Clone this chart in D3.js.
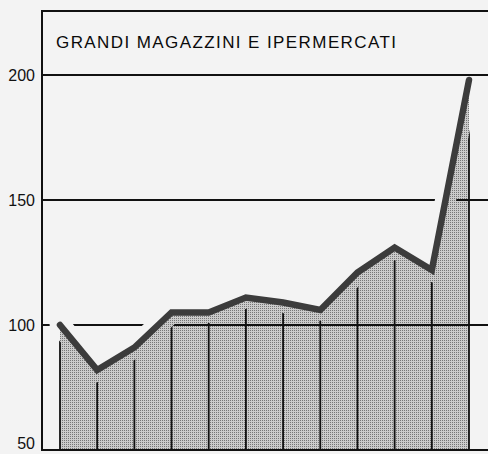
<!DOCTYPE html>
<html>
<head>
<meta charset="utf-8">
<script src="https://cdn.jsdelivr.net/npm/d3@7"></script>
<style>
	body { margin: 0; background: #f3f3f3; }
	svg { display: block; font-family: "Liberation Sans", Arial, sans-serif; }
</style>
</head>
<body>
<div id="chart"></div>
<script>
let title = "GRANDI MAGAZZINI E IPERMERCATI"
let periods = ["1", "2", "3", "4", "5", "6", "7", "8", "9", "10", "11", "12"]
let values = [100, 82, 91, 105, 105, 111, 109, 106, 121, 131, 122, 198]
let yTicks = [50, 100, 150, 200]
let gridTicks = [100, 150]

let w = 488
let h = 454
let padLeft = 42
let padTop = 11
let baseY = 450

let svg = d3.select("#chart")
	.append("svg")
	.attr("width", w)
	.attr("height", h)

svg.append("rect")
	.attr("width", w)
	.attr("height", h)
	.attr("fill", "#f3f3f3")

let x = d3.scalePoint()
	.domain(periods)
	.range([60, 469])

let y = d3.scaleLinear()
	.domain([50, 200])
	.range([baseY, 75])

let data = periods.map((p, i) => ({ period: p, value: values[i] }))

let line = d3.line()
	.x(d => x(d.period))
	.y(d => y(d.value))

let area = d3.area()
	.x(d => x(d.period))
	.y0(baseY)
	.y1(d => y(d.value))

let defs = svg.append("defs")

// halftone look for the shaded area
let pat = defs.append("pattern")
	.attr("id", "dots")
	.attr("width", 2)
	.attr("height", 2)
	.attr("patternUnits", "userSpaceOnUse")
pat.append("rect").attr("width", 2).attr("height", 2).attr("fill", "#cbcbcb")
pat.append("rect").attr("width", 1).attr("height", 1).attr("fill", "#767676")

// white halo round the line: grid and drop lines stop short of it
let mask = defs.append("mask").attr("id", "halo")
mask.append("rect").attr("width", w).attr("height", h).attr("fill", "white")
mask.append("path")
	.datum(data)
	.attr("d", line)
	.attr("fill", "none")
	.attr("stroke", "black")
	.attr("stroke-width", 21)
	.attr("stroke-linecap", "round")

svg.append("path")
	.datum(data)
	.attr("d", area)
	.attr("fill", "url(#dots)")

let masked = svg.append("g").attr("mask", "url(#halo)")

masked.selectAll(".grid")
	.data(gridTicks)
	.join("line")
	.attr("class", "grid")
	.attr("x1", padLeft)
	.attr("x2", w)
	.attr("y1", d => y(d))
	.attr("y2", d => y(d))
	.attr("stroke", "#111")
	.attr("stroke-width", 2)

masked.selectAll(".drop")
	.data(data)
	.join("line")
	.attr("class", "drop")
	.attr("x1", d => x(d.period))
	.attr("x2", d => x(d.period))
	.attr("y1", baseY)
	.attr("y2", d => y(d.value))
	.attr("stroke", "#111")
	.attr("stroke-width", 1.8)

// 200 line and frame
svg.append("line")
	.attr("x1", padLeft).attr("x2", w)
	.attr("y1", y(200)).attr("y2", y(200))
	.attr("stroke", "#111").attr("stroke-width", 2)

svg.append("path")
	.attr("d", `M${w},${padTop}H${padLeft}V${baseY}H${w}`)
	.attr("fill", "none")
	.attr("stroke", "#111")
	.attr("stroke-width", 2)

svg.append("path")
	.datum(data)
	.attr("d", line)
	.attr("fill", "none")
	.attr("stroke", "#3c3c3c")
	.attr("stroke-width", 6.5)
	.attr("stroke-linejoin", "miter")
	.attr("stroke-linecap", "round")

let yAxis = d3.axisLeft(y)
	.tickValues(yTicks)
	.tickSize(0)
	.tickPadding(7)

let gy = svg.append("g")
	.attr("transform", "translate(" + padLeft + ", 0)")
	.call(yAxis)
gy.select(".domain").remove()
gy.selectAll("text")
	.attr("font-size", 16)
	.attr("font-family", "Liberation Sans, Arial, sans-serif")
	.attr("fill", "#111")
// bottom label sits on the page edge, lift it just enough to stay whole
gy.selectAll(".tick")
	.filter(d => d === 50)
	.select("text")
	.attr("dy", "-0.08em")

svg.append("text")
	.attr("x", 56)
	.attr("y", 47.5)
	.attr("font-size", 17)
	.attr("fill", "#0a0a0a")
	.attr("textLength", 340)
	.attr("lengthAdjust", "spacing")
	.text(title)
</script>
</body>
</html>
